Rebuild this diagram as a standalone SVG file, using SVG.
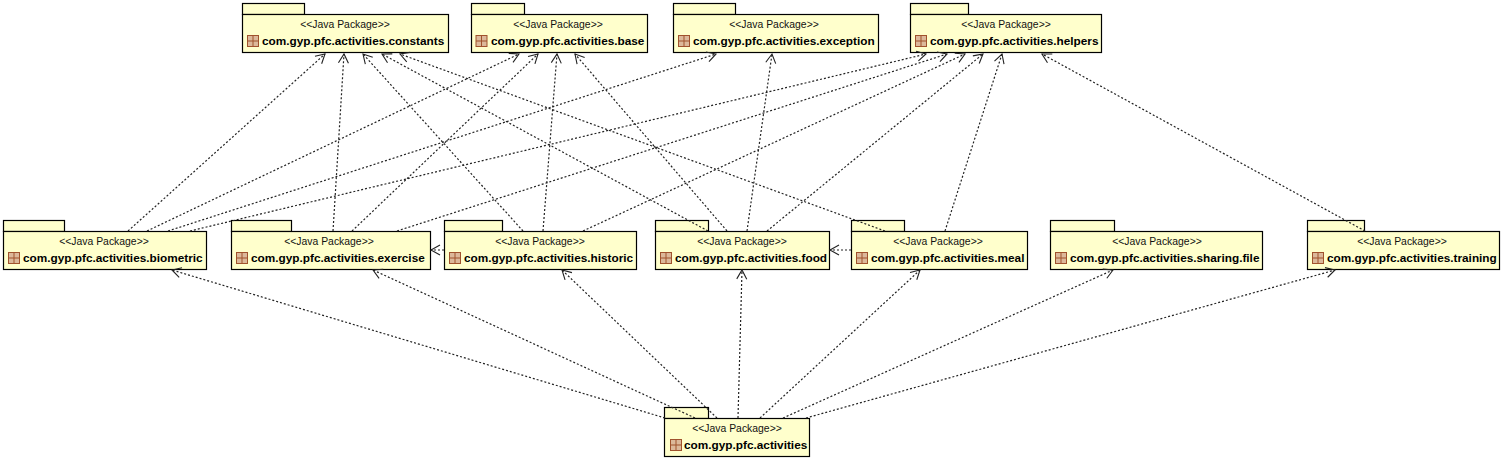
<svg xmlns="http://www.w3.org/2000/svg" width="1503" height="460" viewBox="0 0 1503 460">
<style>
.b{fill:#ffffcc;stroke:#000;stroke-width:1.2}
.s{font:10.4px "Liberation Sans",Arial,sans-serif;fill:#111;text-anchor:middle}
.n{font:bold 11.8px "Liberation Sans",Arial,sans-serif;fill:#000}
#c line{stroke:#222;stroke-width:1.2;stroke-dasharray:2 2;fill:none;marker-end:url(#a)}
</style>
<defs>
<marker id="a" markerUnits="userSpaceOnUse" markerWidth="14" markerHeight="14" viewBox="-12 -7 14 14" refX="0" refY="0" orient="auto"><path d="M-9,-5L0,0L-9,5" fill="none" stroke="#222" stroke-width="1.1"/></marker>
<g id="i"><rect x=".5" y=".5" width="11" height="11" fill="#dcb89a" stroke="#a0522d"/><path d="M6,.5V11.500M.5,6H11.500" stroke="#a0522d" fill="none"/></g>
</defs>
<g id="constants"><rect class="b" x="242.500" y="3.500" width="62" height="11"/><rect class="b" x="242.500" y="14.500" width="206" height="38"/><text class="s" x="345" y="28">&lt;&lt;Java Package&gt;&gt;</text><use href="#i" x="247" y="35"/><text class="n" x="262" y="45">com.gyp.pfc.activities.constants</text></g>
<g id="base"><rect class="b" x="471.500" y="3.500" width="53" height="11"/><rect class="b" x="471.500" y="14.500" width="176" height="38"/><text class="s" x="558" y="28">&lt;&lt;Java Package&gt;&gt;</text><use href="#i" x="475.500" y="35"/><text class="n" x="491" y="45">com.gyp.pfc.activities.base</text></g>
<g id="exception"><rect class="b" x="673.500" y="3.500" width="62" height="11"/><rect class="b" x="673.500" y="14.500" width="205" height="38"/><text class="s" x="774" y="28">&lt;&lt;Java Package&gt;&gt;</text><use href="#i" x="678" y="35"/><text class="n" x="693" y="45">com.gyp.pfc.activities.exception</text></g>
<g id="helpers"><rect class="b" x="910.500" y="3.500" width="58" height="11"/><rect class="b" x="910.500" y="14.500" width="191" height="38"/><text class="s" x="1006" y="28">&lt;&lt;Java Package&gt;&gt;</text><use href="#i" x="915" y="35"/><text class="n" x="930" y="45">com.gyp.pfc.activities.helpers</text></g>
<g id="biometric"><rect class="b" x="3.500" y="220.500" width="61" height="11"/><rect class="b" x="3.500" y="231.500" width="203" height="38"/><text class="s" x="104" y="245">&lt;&lt;Java Package&gt;&gt;</text><use href="#i" x="8" y="252"/><text class="n" x="23" y="262">com.gyp.pfc.activities.biometric</text></g>
<g id="exercise"><rect class="b" x="231.500" y="220.500" width="60" height="11"/><rect class="b" x="231.500" y="231.500" width="199" height="38"/><text class="s" x="329" y="245">&lt;&lt;Java Package&gt;&gt;</text><use href="#i" x="236" y="252"/><text class="n" x="251" y="262">com.gyp.pfc.activities.exercise</text></g>
<g id="historic"><rect class="b" x="444.500" y="220.500" width="58" height="11"/><rect class="b" x="444.500" y="231.500" width="192" height="38"/><text class="s" x="540" y="245">&lt;&lt;Java Package&gt;&gt;</text><use href="#i" x="449" y="252"/><text class="n" x="464" y="262">com.gyp.pfc.activities.historic</text></g>
<g id="food"><rect class="b" x="655.500" y="220.500" width="53" height="11"/><rect class="b" x="655.500" y="231.500" width="174" height="38"/><text class="s" x="742" y="245">&lt;&lt;Java Package&gt;&gt;</text><use href="#i" x="660" y="252"/><text class="n" x="675" y="262">com.gyp.pfc.activities.food</text></g>
<g id="meal"><rect class="b" x="851.500" y="220.500" width="53" height="11"/><rect class="b" x="851.500" y="231.500" width="176" height="38"/><text class="s" x="938" y="245">&lt;&lt;Java Package&gt;&gt;</text><use href="#i" x="856" y="252"/><text class="n" x="871" y="262">com.gyp.pfc.activities.meal</text></g>
<g id="sharing"><rect class="b" x="1050.500" y="220.500" width="64" height="11"/><rect class="b" x="1050.500" y="231.500" width="212" height="38"/><text class="s" x="1157" y="245">&lt;&lt;Java Package&gt;&gt;</text><use href="#i" x="1055" y="252"/><text class="n" x="1070" y="262">com.gyp.pfc.activities.sharing.file</text></g>
<g id="training"><rect class="b" x="1307.500" y="220.500" width="57" height="11"/><rect class="b" x="1307.500" y="231.500" width="192" height="38"/><text class="s" x="1402" y="245">&lt;&lt;Java Package&gt;&gt;</text><use href="#i" x="1312" y="252"/><text class="n" x="1327" y="262">com.gyp.pfc.activities.training</text></g>
<g id="activities"><rect class="b" x="664.500" y="407.500" width="44" height="11"/><rect class="b" x="664.500" y="418.500" width="145" height="38"/><text class="s" x="737" y="432">&lt;&lt;Java Package&gt;&gt;</text><use href="#i" x="670" y="439"/><text class="n" x="684" y="449">com.gyp.pfc.activities</text></g>
<g id="c">
<line x1="128" y1="231" x2="325" y2="54"/>
<line x1="333" y1="231" x2="344" y2="54"/>
<line x1="523" y1="231" x2="363" y2="54"/>
<line x1="708" y1="231" x2="382" y2="54"/>
<line x1="885" y1="231" x2="400" y2="54"/>
<line x1="147" y1="231" x2="519" y2="54"/>
<line x1="352" y1="231" x2="538" y2="54"/>
<line x1="543" y1="231" x2="557" y2="54"/>
<line x1="727" y1="231" x2="575" y2="54"/>
<line x1="168" y1="231" x2="716" y2="54"/>
<line x1="747" y1="231" x2="772" y2="54"/>
<line x1="190" y1="231" x2="926" y2="54"/>
<line x1="397" y1="231" x2="947" y2="54"/>
<line x1="583" y1="231" x2="965" y2="54"/>
<line x1="767" y1="231" x2="983" y2="54"/>
<line x1="945" y1="231" x2="1002" y2="54"/>
<line x1="1365" y1="231" x2="1042" y2="54"/>
<line x1="444" y1="250" x2="431" y2="250"/>
<line x1="851" y1="250" x2="830" y2="250"/>
<line x1="665" y1="418" x2="172" y2="270"/>
<line x1="695" y1="418" x2="373" y2="270"/>
<line x1="717" y1="418" x2="562" y2="270"/>
<line x1="738" y1="418" x2="742" y2="270"/>
<line x1="760" y1="418" x2="920" y2="270"/>
<line x1="783" y1="418" x2="1113" y2="270"/>
<line x1="806" y1="418" x2="1335" y2="270"/>
</g>
</svg>
